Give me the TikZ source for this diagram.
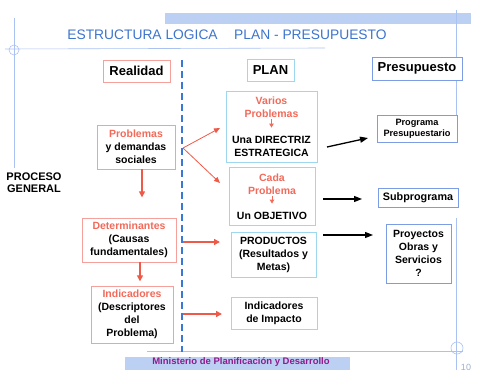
\documentclass[tikz,border=0pt]{standalone}
\usepackage{fontspec}
\setmainfont{Liberation Sans}
\usetikzlibrary{arrows.meta}
\definecolor{sal}{HTML}{F26A5A}
\definecolor{redb}{HTML}{F5A09A}
\definecolor{reda}{HTML}{EF5A48}
\definecolor{cyanb}{HTML}{9ED8EE}
\definecolor{blueb}{HTML}{7C9CE6}
\definecolor{dashc}{HTML}{3A78D8}
\definecolor{framec}{HTML}{A9C2F2}
\definecolor{barc}{HTML}{BCD0F4}
\definecolor{titlec}{HTML}{3D74CC}
\definecolor{purp}{HTML}{8E1C8C}
\begin{document}
\begin{tikzpicture}[x=1pt,y=-1pt,
  box/.style={draw,line width=0.7pt,inner sep=0pt,fill=white},
  rbox/.style={box,draw=redb},
  cbox/.style={box,draw=cyanb},
  bbox/.style={box,draw=blueb},
  txt/.style={inner sep=0pt,align=center,font=\bfseries\fontsize{10.5}{13}\selectfont},
  head/.style={inner sep=0pt,font=\bfseries\fontsize{13}{15}\selectfont},
  rarr/.style={draw=reda,line width=1.3pt,-{Triangle[length=6pt,width=6pt]}},
  rarrt/.style={draw=reda,line width=0.8pt,-{Triangle[length=6pt,width=5pt]}},
  karr/.style={draw=black,line width=1.3pt,-{Triangle[length=8pt,width=6pt]}},
  sarr/.style={draw=sal,line width=0.9pt,-{Triangle[length=4pt,width=4.5pt]}},
  deco/.style={draw=framec,line width=0.6pt}
]
\useasboundingbox (0,0) rectangle (480,385);
% decorative frame
\fill[barc] (165,13) rectangle (471,24);
\draw[deco] (5,49) -- (325,48);
\draw[deco] (14,50) circle (5);
\draw[deco] (14,18) -- (14,168);
\draw[deco] (456,10) -- (456,115);
\draw[deco] (456,218) -- (456,370);
\draw[deco] (147,351) -- (463,351);
\draw[deco] (457,348) circle (6);
\fill[barc] (125,357) rectangle (350,370);
\node[inner sep=0pt,font=\bfseries\fontsize{9.5}{11}\selectfont,text=purp] (footer) at (241,362) {Ministerio de Planificación y Desarrollo};
\node[inner sep=0pt,font=\fontsize{9}{10}\selectfont,text=framec!70!gray] (pagenum) at (466,367) {10};
% title
\node[inner sep=0pt,font=\fontsize{13.8}{15}\selectfont,text=titlec] (title) at (227,35) {ESTRUCTURA LOGICA\hspace{1.2em}PLAN - PRESUPUESTO};
% dashed divider
\coordinate (dtop) at (182,60);
\coordinate (dbot) at (182,352);
\draw[dashc,line width=1.8pt,dash pattern=on 7pt off 4pt] (dtop) -- (dbot);
% headers
\node[rbox,minimum width=67pt,minimum height=22pt,head] (real) at (136.5,71) {Realidad};
\node[cbox,minimum width=47pt,minimum height=22pt,head] (plan) at (270.5,70) {PLAN};
\node[bbox,minimum width=90pt,minimum height=23pt,head] (presup) at (417,68.5) {Presupuesto};
\node[txt,font=\bfseries\fontsize{11}{12}\selectfont] (proceso) at (34,183) {PROCESO\\GENERAL};
% realidad column
\node[rbox,minimum width=78pt,minimum height=44pt,txt] (prob) at (136,147) {\textcolor{sal}{Problemas}\\y demandas\\sociales};
\node[rbox,minimum width=94pt,minimum height=44pt,txt] (det) at (129,240) {\textcolor{sal}{Determinantes}\\(Causas\\fundamentales)};
\node[rbox,minimum width=82pt,minimum height=57pt,txt] (ind) at (132,314.5) {\textcolor{sal}{Indicadores}\\(Descriptores\\del\\Problema)};
% plan column
\node[cbox,minimum width=91pt,minimum height=71pt] (varios) at (271.5,126.5) {};
\node[txt,text=sal] (variost) at (271.5,107) {Varios\\Problemas};
\node[txt] (variosb) at (271.5,146) {Una DIRECTRIZ\\ESTRATEGICA};
\draw[sarr] ([yshift=-1pt]variost.south) -- ++(0,9);
\node[cbox,minimum width=86pt,minimum height=58pt] (cada) at (272,196) {};
\node[txt,text=sal] (cadat) at (272,184) {Cada\\Problema};
\node[txt] (cadab) at (272,216) {Un OBJETIVO};
\draw[sarr] ([yshift=-1pt]cadat.south) -- ++(0,8);
\node[cbox,minimum width=85pt,minimum height=45pt,txt] (prod) at (273.5,254.5) {PRODUCTOS\\(Resultados y\\Metas)};
\node[cbox,minimum width=86pt,minimum height=32pt,txt] (impact) at (274,313) {Indicadores\\de Impacto};
% presupuesto column
\node[bbox,minimum width=80pt,minimum height=27pt,txt,font=\bfseries\fontsize{9.2}{11}\selectfont] (progr) at (417,128.5) {Programa\\Presupuestario};
\node[bbox,minimum width=80pt,minimum height=19pt,txt,font=\bfseries\fontsize{10.8}{13}\selectfont] (subp) at (418,197.5) {Subprograma};
\node[bbox,minimum width=65pt,minimum height=59pt,txt] (proy) at (418.5,253.5) {Proyectos\\Obras y\\Servicios\\?};
% red arrows
\draw[rarr] ([xshift=6pt]prob.south) -- ++(0,28);
\draw[rarr] ([xshift=11pt]det.south) -- ++(0,19);
\coordinate (pfork) at (183,148);
\coordinate (pend1) at (220,128);
\coordinate (pend2) at (220,183);
\draw[rarrt] (pfork) -- (pend1);
\draw[rarrt] (pfork) -- (pend2);
\coordinate (dfork) at (183,242);
\coordinate (dend) at (220,242);
\draw[rarr] (dfork) -- (dend);
\coordinate (ifork) at (183,314);
\coordinate (iend) at (222,314);
\draw[rarr] (ifork) -- (iend);
% black arrows
\coordinate (k1s) at (327,147);
\coordinate (k1e) at (368,138);
\coordinate (k2s) at (323,199);
\coordinate (k2e) at (362,199);
\coordinate (k3s) at (323,235);
\coordinate (k3e) at (373,235);
\draw[karr] (k1s) -- (k1e);
\draw[karr] (k2s) -- (k2e);
\draw[karr] (k3s) -- (k3e);
\end{tikzpicture}
\end{document}
